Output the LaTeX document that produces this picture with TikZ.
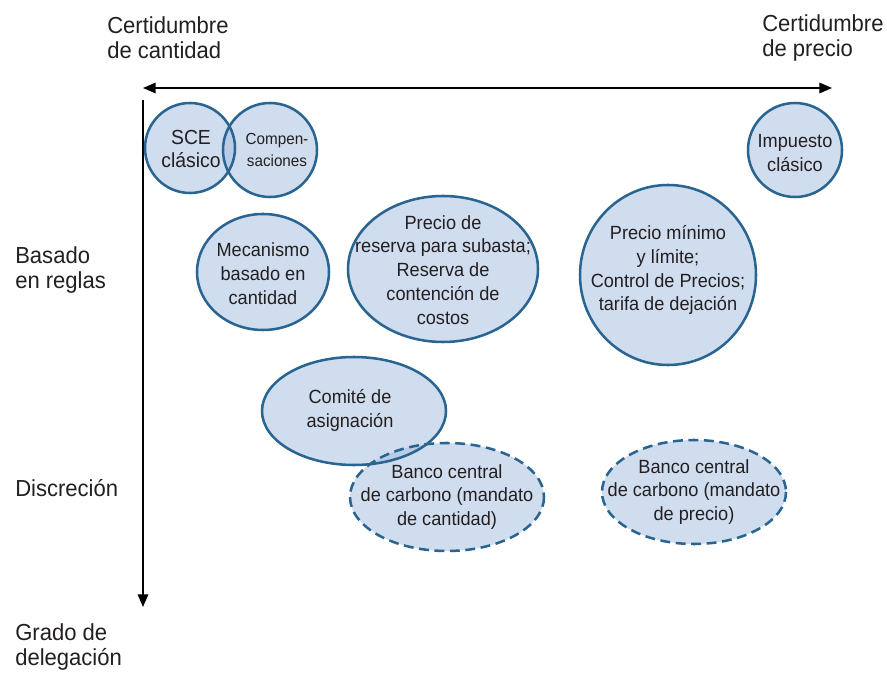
\documentclass[tikz,border=0pt]{standalone}
\usepackage{fontspec}
\setmainfont{Liberation Sans}[FakeStretch=0.95]
\usetikzlibrary{arrows.meta}
\definecolor{bubblefill}{RGB}{161,187,221}
\definecolor{bubbleline}{RGB}{42,101,145}
\definecolor{inktext}{RGB}{35,31,32}

\begin{document}
\begin{tikzpicture}[x=0.025cm,y=-0.025cm]
		\tikzstyle{axis}=[line width=1.1pt,arrows={Triangle[length=9pt,width=7.5pt]-Triangle[length=9pt,width=7.5pt]}]
		\tikzstyle{downaxis}=[line width=1.1pt,arrows={-Triangle[length=9pt,width=7.5pt]}]
		\tikzstyle{bubble}=[fill=bubblefill,fill opacity=0.5]
		\tikzstyle{rim}=[draw=bubbleline,line width=1.8pt]
		\tikzstyle{flex}=[draw=bubbleline,line width=1.8pt,dash pattern=on 7pt off 4pt]
		\tikzstyle{axislabel}=[text=inktext,font=\fontsize{16.5}{18}\selectfont,align=left,anchor=west,inner sep=0pt]
		\tikzstyle{inside}=[text=inktext,font=\fontsize{13.6}{17}\selectfont,align=center,inner sep=0pt]
		
		\useasboundingbox (0,0) rectangle (887,674);
		
		% axes
		\coordinate (left) at (143,88);
		\coordinate (right) at (832,88);
		\coordinate (top) at (143,100);
		\coordinate (bottom) at (143,607);
		\draw [axis] (left) -- (right);
		\draw [downaxis] (top) -- (bottom);
		
		\node[axislabel] (qcert) at (107,38) {Certidumbre\\de cantidad};
		\node[axislabel] (pcert) at (762,38) {Certidumbre\\de precio};
		\node[axislabel] (rules) at (15,270) {Basado\\en reglas};
		\node[axislabel] (discr) at (15,488) {Discreción};
		\node[axislabel] (deleg) at (15,647) {Grado de\\delegación};
		
		% fills first, so overlaps come out darker
		\fill [bubble] (190,148) circle (45);
		\fill [bubble] (270,150) circle (47);
		\fill [bubble] (795,150) circle (47);
		\fill [bubble] (263,272) ellipse (66 and 58);
		\fill [bubble] (443,269) ellipse (95 and 73);
		\fill [bubble] (668,275) ellipse (88 and 90);
		\fill [bubble] (354,411) ellipse (92 and 54);
		\fill [bubble] (447,497) ellipse (97 and 54);
		\fill [bubble] (694,492) ellipse (92 and 52);
		
		% outlines
		\draw [rim] (190,148) circle (45);
		\draw [rim] (270,150) circle (47);
		\draw [rim] (795,150) circle (47);
		\draw [rim] (263,272) ellipse (66 and 58);
		\draw [rim] (443,269) ellipse (95 and 73);
		\draw [rim] (668,275) ellipse (88 and 90);
		\draw [rim] (354,411) ellipse (92 and 54);
		\draw [flex] (447,497) ellipse (97 and 54);
		\draw [flex] (694,492) ellipse (92 and 52);
		
		\node[inside,font=\fontsize{14.5}{16}\selectfont] (sce) at (191,149) {SCE\\clásico};
		\node[inside,font=\fontsize{11.4}{16}\selectfont] (offsets) at (277,150) {Compen-\\saciones};
		\node[inside] (tax) at (795,153) {Impuesto\\clásico};
		\node[inside] (qmech) at (263,274) {Mecanismo\\basado en\\cantidad};
		\node[inside] (reserve) at (443,270) {Precio de\\reserva para subasta;\\Reserva de\\contención de\\costos};
		\node[inside] (floor) at (668,270) {Precio mínimo\\y límite;\\Control de Precios;\\tarifa de dejación};
		\node[inside] (comm) at (350,410) {Comité de\\asignación};
		\node[inside] (qbank) at (447,497) {Banco central\\de carbono (mandato\\de cantidad)};
		\node[inside] (pbank) at (694,492) {Banco central\\de carbono (mandato\\de precio)};
\end{tikzpicture}
\end{document}
